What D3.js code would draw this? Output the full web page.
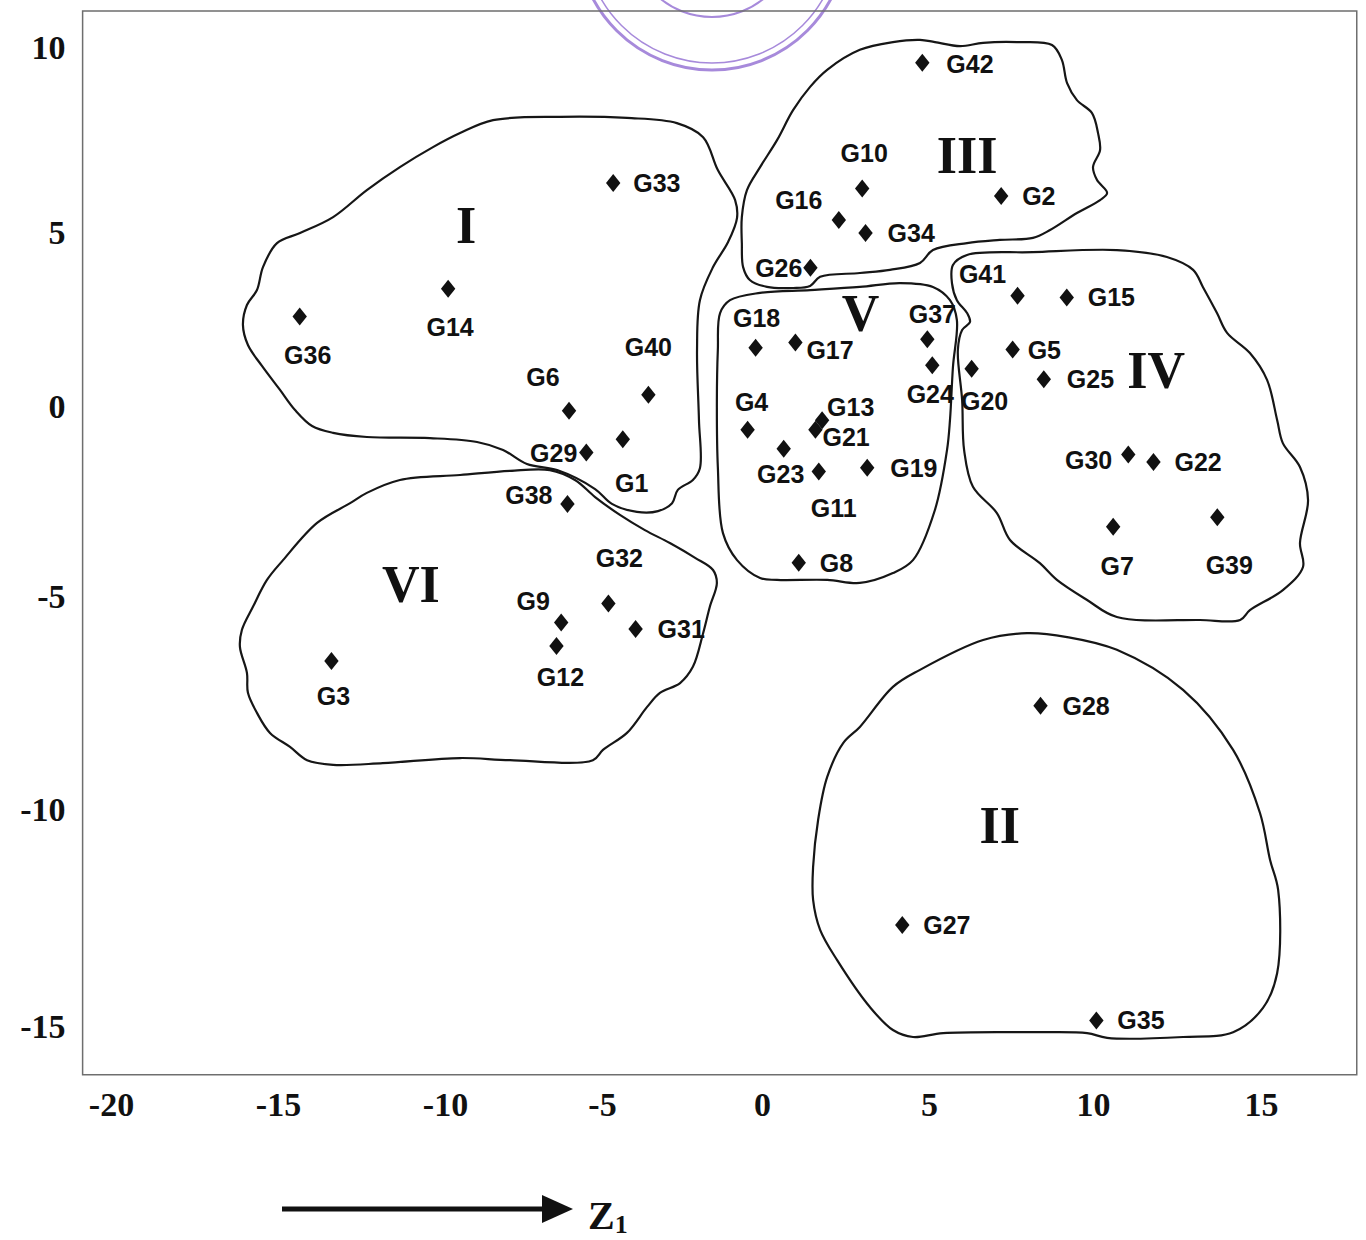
<!DOCTYPE html>
<html>
<head>
<meta charset="utf-8">
<script src="https://cdn.jsdelivr.net/npm/d3@7"></script>
<style>
  html, body { margin: 0; padding: 0; background: #ffffff; }
  svg { display: block; }
</style>
</head>
<body>
<svg id="chart" width="1366" height="1240"></svg>
<script>
// ---------------- DATA ----------------
const genotypes = ["G1","G2","G3","G4","G5","G6","G7","G8","G9","G10","G11","G12","G13","G14",
  "G15","G16","G17","G18","G19","G20","G21","G22","G23","G24","G25","G26","G27","G28",
  "G29","G30","G31","G32","G33","G34","G35","G36","G37","G38","G39","G40","G41","G42"];
const z1Values = [-4.35, 7.2, -13.4, -0.45, 7.55, -6.05, 10.6, 1.1, -6.3, 3.0, 1.7, -6.45, 1.8, -9.9,
  9.2, 2.3, 1.0, -0.2, 3.15, 6.3, 1.6, 11.8, 0.65, 5.1, 8.5, 1.45, 4.2, 8.4,
  -5.5, 11.05, -3.95, -4.8, -4.65, 3.1, 10.1, -14.35, 4.95, -6.1, 13.7, -3.55, 7.7, 4.8];
const z2Values = [-0.85, 6.0, -6.5, -0.6, 1.65, -0.1, -3.15, -4.1, -5.6, 6.2, -1.7, -6.15, -0.35, 3.4,
  3.15, 5.35, 1.85, 1.7, -1.6, 1.1, -0.6, -1.45, -1.1, 1.2, 0.8, 4.0, -12.65, -7.55,
  -1.2, -1.25, -5.75, -5.15, 6.35, 5.0, -14.85, 2.6, 1.95, -2.55, -2.9, 0.35, 3.2, 9.6];

const xTickValues = [-20, -15, -10, -5, 0, 5, 10, 15];
const yTickValues = [-15, -10, -5, 0, 5, 10];
const z1Extent = [-20.85, 17.85];
const z2Extent = [-16.1, 11.0];

const clusterNames = ["I", "II", "III", "IV", "V", "VI"];
const clusterLabelZ1 = [-9.33, 7.16, 6.16, 11.88, 2.95, -11.02];
const clusterLabelZ2 = [5.19, -10.37, 7.08, 1.03, 2.68, -4.68];

// cluster boundaries (hand-drawn outlines), [Z1, Z2]
const contourI = [[-9.52,7.70],[-8.47,8.05],[-6.34,8.14],[-4.22,8.11],[-2.66,7.97],[-1.84,7.59],[-1.38,6.70],
  [-0.84,5.89],[-0.78,5.41],[-1.06,4.74],[-1.53,4.02],[-1.94,3.07],[-2.03,1.64],[-1.97,-0.34],[-1.94,-1.61],
  [-2.16,-1.92],[-2.63,-2.18],[-2.81,-2.53],[-3.25,-2.74],[-3.91,-2.76],[-4.69,-2.55],[-5.22,-2.16],
  [-6.43,-1.66],[-7.39,-1.5],[-8.15,-1.13],[-8.98,-0.92],[-10.45,-0.82],[-12.34,-0.79],[-13.35,-0.68],
  [-13.98,-0.5],[-14.49,-0.08],[-14.94,0.49],[-15.48,1.18],[-15.9,1.78],[-16.05,2.36],[-15.93,2.93],
  [-15.63,3.36],[-15.45,4.02],[-15.03,4.71],[-14.34,5.0],[-13.35,5.43],[-12.34,6.16],[-11.35,6.78],[-10.36,7.32]];
const contourII = [[4.73,-6.71],[6.65,-6.01],[7.99,-5.85],[9.21,-5.94],[10.71,-6.24],[12.68,-7.18],[14.17,-8.59],
  [14.97,-10.07],[15.27,-11.15],[15.51,-11.84],[15.48,-13.76],[15.06,-14.56],[14.17,-15.12],[12.68,-15.23],
  [10.42,-15.25],[9.82,-15.14],[8.17,-15.12],[5.43,-15.14],[4.52,-15.23],[3.92,-15.07],[3.23,-14.54],
  [2.25,-13.46],[1.74,-12.76],[1.53,-12.07],[1.53,-11.31],[1.68,-10.23],[1.95,-9.23],[2.43,-8.43],
  [2.93,-8.05],[3.92,-7.11]];
const contourIII = [[4.73,10.22],[3.92,10.16],[2.93,9.95],[1.95,9.41],[1.44,8.95],[0.93,8.32],[0.45,7.51],
  [-0.06,6.78],[-0.47,6.16],[-0.63,5.43],[-0.63,4.71],[-0.59,4.02],[-0.38,3.65],[0.15,3.45],[0.93,3.42],
  [1.44,3.48],[1.74,3.74],[2.93,3.85],[3.83,3.94],[4.73,4.14],[5.12,4.51],[6.16,4.71],[7.16,4.8],[8.17,4.86],
  [8.69,5.08],[9.51,5.54],[10.21,5.89],[10.42,6.08],[10.12,6.43],[10.0,6.78],[10.21,7.24],[10.15,7.7],
  [9.97,8.24],[9.51,8.59],[9.21,9.05],[9.05,9.68],[8.75,10.08],[7.68,10.16],[6.65,10.14],[5.95,10.05],[5.18,10.16]];
const contourIV = [[5.73,4.08],[6.16,4.37],[8.17,4.45],[10.71,4.51],[12.2,4.31],[12.98,3.94],[13.27,3.45],
  [13.69,2.7],[13.99,2.13],[14.67,1.55],[15.18,0.78],[15.48,-0.34],[15.65,-0.95],[16.16,-1.58],[16.4,-2.45],
  [16.16,-3.58],[16.25,-4.21],[15.65,-4.82],[14.67,-5.31],[14.38,-5.54],[13.18,-5.54],[10.71,-5.47],
  [9.82,-5.07],[8.9,-4.55],[8.38,-4.11],[7.47,-3.5],[7.07,-2.79],[6.34,-2.1],[6.07,-1.13],[6.01,0.2],
  [5.88,1.64],[6.01,2.21],[6.25,2.44],[6.16,2.7],[5.85,3.07],[5.7,3.56]];
const contourV = [[-1.31,2.7],[-1.0,3.07],[-0.06,3.28],[1.44,3.36],[2.93,3.45],[4.13,3.56],[5.12,3.45],
  [5.64,3.07],[5.85,2.5],[5.73,1.15],[5.64,-0.34],[5.55,-1.13],[5.18,-2.71],[4.52,-4.03],[3.92,-4.37],
  [2.93,-4.63],[1.95,-4.55],[0.45,-4.55],[-0.06,-4.5],[-0.78,-4.03],[-1.22,-3.32],[-1.38,-1.58],
  [-1.41,0.2],[-1.38,1.64]];
const contourVI = [[-9.52,-1.79],[-7.93,-1.68],[-6.66,-1.66],[-5.86,-1.92],[-5.22,-2.37],[-4.44,-2.84],
  [-3.66,-3.24],[-2.88,-3.58],[-2.09,-3.97],[-1.53,-4.29],[-1.41,-4.63],[-1.63,-5.23],[-1.84,-5.85],
  [-2.16,-6.64],[-2.56,-7.02],[-3.19,-7.25],[-3.59,-7.58],[-4.22,-8.19],[-4.97,-8.59],[-5.29,-8.83],
  [-7.93,-8.83],[-9.52,-8.78],[-11.86,-8.9],[-13.35,-8.94],[-14.13,-8.83],[-14.64,-8.52],[-15.24,-8.19],
  [-15.63,-7.72],[-15.9,-7.25],[-15.93,-6.78],[-16.14,-6.17],[-16.08,-5.77],[-15.75,-5.23],[-15.33,-4.55],
  [-14.85,-4.03],[-13.83,-3.05],[-12.84,-2.53],[-12.34,-2.26],[-11.35,-1.92]];
const contours = [contourI, contourII, contourIII, contourIV, contourV, contourVI];

// ---------------- LAYOUT (label placement offsets, px) ----------------
const LABEL_LAYOUT = {
  G1:["middle",9,44], G2:["start",21,0], G3:["middle",2,35], G4:["middle",4,-28], G5:["start",15,0],
  G6:["middle",-26,-34], G7:["middle",4,39], G8:["start",21,0], G9:["middle",-28,-22], G10:["middle",2,-36],
  G11:["middle",15,36], G12:["middle",4,31], G13:["start",5,-13], G14:["middle",2,38], G15:["start",21,0],
  G16:["middle",-40,-20], G17:["start",11,7], G18:["middle",1,-30], G19:["start",23,0], G20:["middle",13,32],
  G21:["start",7,7], G22:["start",21,0], G23:["middle",-3,25], G24:["middle",-2,29], G25:["start",23,0],
  G26:["end",-8,0], G27:["start",21,0], G28:["start",22,0], G29:["end",-9,0], G30:["end",-16,5],
  G31:["start",22,0], G32:["middle",11,-45], G33:["start",20,0], G34:["start",22,0], G35:["start",21,0],
  G36:["middle",8,38], G37:["middle",5,-25], G38:["end",-15,-9], G39:["middle",12,48], G40:["middle",0,-48],
  G41:["middle",-35,-22], G42:["start",24,1]
};

const svg = d3.select("#chart");

// scales (tick positions in the scanned figure are not perfectly even)
const x = d3.scaleLinear().domain(xTickValues).range([111, 278, 445, 602, 762, 929, 1093, 1261]);
const y = d3.scaleLinear().domain(yTickValues).range([1027, 810, 597, 407, 233, 48]);

// stamp remnant (scan artefact at the top)
const stamp = svg.append("g").attr("fill", "none").attr("stroke", "#8a63cf").attr("opacity", 0.75);
stamp.append("circle").attr("cx", 712).attr("cy", -65).attr("r", 135).attr("stroke-width", 3);
stamp.append("circle").attr("cx", 712).attr("cy", -65).attr("r", 128).attr("stroke-width", 1.5);
stamp.append("circle").attr("cx", 712).attr("cy", -65).attr("r", 82).attr("stroke-width", 2);

// frame
svg.append("rect")
  .attr("x", x(z1Extent[0])).attr("y", y(z2Extent[1]))
  .attr("width", x(z1Extent[1]) - x(z1Extent[0]))
  .attr("height", y(z2Extent[0]) - y(z2Extent[1]))
  .attr("fill", "none").attr("stroke", "#6e6e6e").attr("stroke-width", 1.5);

// axes
const xAxis = svg.append("g")
  .attr("transform", `translate(0,${y(z2Extent[0])})`)
  .call(d3.axisBottom(x).tickValues(xTickValues).tickSize(0).tickPadding(17).tickFormat(d => String(d)));
const yAxis = svg.append("g")
  .attr("transform", `translate(${x(z1Extent[0])},0)`)
  .call(d3.axisLeft(y).tickValues(yTickValues).tickSize(0).tickPadding(17).tickFormat(d => String(d)));
[xAxis, yAxis].forEach(a => {
  a.select(".domain").remove();
  a.selectAll("text")
    .attr("font-family", "'Liberation Serif', 'Times New Roman', serif")
    .attr("font-weight", "bold").attr("font-size", 34).attr("fill", "#111");
});

// contours
const outline = d3.line().x(d => x(d[0])).y(d => y(d[1])).curve(d3.curveCatmullRomClosed.alpha(0.5));
svg.append("g").selectAll("path").data(contours).join("path")
  .attr("d", outline).attr("fill", "none").attr("stroke", "#161616").attr("stroke-width", 2.2);

// cluster numerals
svg.append("g").selectAll("text").data(clusterNames).join("text")
  .attr("x", (d, i) => x(clusterLabelZ1[i]))
  .attr("y", (d, i) => y(clusterLabelZ2[i]))
  .attr("dy", "0.33em")
  .attr("text-anchor", "middle")
  .attr("font-family", "'Liberation Serif', 'Times New Roman', serif")
  .attr("font-weight", "bold").attr("font-size", 52).attr("fill", "#111")
  .text(d => d);

// points
const points = genotypes.map((g, i) => ({ name: g, z1: z1Values[i], z2: z2Values[i] }));
const diamond = {
  draw(ctx, size) {
    const h = Math.sqrt(size) / 2, w = h * 0.8;
    ctx.moveTo(0, -h); ctx.lineTo(w, 0); ctx.lineTo(0, h); ctx.lineTo(-w, 0); ctx.closePath();
  }
};
svg.append("g").selectAll("path").data(points).join("path")
  .attr("transform", d => `translate(${x(d.z1)},${y(d.z2)})`)
  .attr("d", d3.symbol().type(diamond).size(324))
  .attr("fill", "#111");

svg.append("g").selectAll("text").data(points).join("text")
  .attr("x", d => x(d.z1) + LABEL_LAYOUT[d.name][1])
  .attr("y", d => y(d.z2) + LABEL_LAYOUT[d.name][2])
  .attr("dy", "0.36em")
  .attr("text-anchor", d => LABEL_LAYOUT[d.name][0])
  .attr("font-family", "'Liberation Sans', Arial, sans-serif")
  .attr("font-weight", "bold").attr("font-size", 25).attr("fill", "#111")
  .text(d => d.name);

// Z1 direction arrow
const arrow = svg.append("g");
arrow.append("line").attr("x1", 282).attr("x2", 548).attr("y1", 1209).attr("y2", 1209)
  .attr("stroke", "#111").attr("stroke-width", 5);
arrow.append("path").attr("d", "M542,1195 L573,1209 L542,1223 Z").attr("fill", "#111");
const zt = arrow.append("text").attr("x", 588).attr("y", 1229)
  .attr("font-family", "'Liberation Serif', 'Times New Roman', serif")
  .attr("font-weight", "bold").attr("font-size", 40).attr("fill", "#111");
zt.append("tspan").text("Z");
zt.append("tspan").attr("font-size", 26).attr("dy", 4).text("1");
</script>
</body>
</html>
